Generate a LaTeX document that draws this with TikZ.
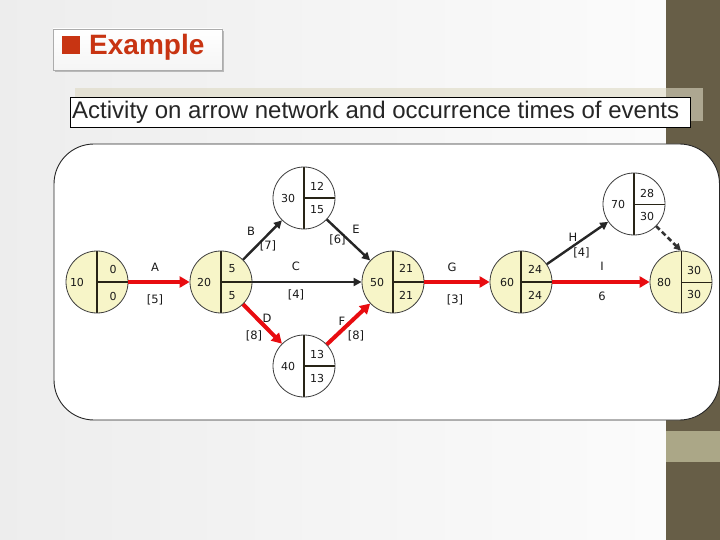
\documentclass[tikz,border=0pt]{standalone}
\usepackage{fontspec}
\setmainfont{Liberation Sans}
\newfontfamily\netfont{DejaVu Sans}
\usetikzlibrary{arrows.meta}
\usetikzlibrary{shadings}
\usepackage{xcolor}
\definecolor{sidebar}{RGB}{103,94,71}
\definecolor{sideband}{RGB}{171,167,135}
\definecolor{khakishade}{RGB}{221,217,195}
\definecolor{titlered}{RGB}{200,52,18}
\definecolor{critred}{RGB}{232,12,16}
\definecolor{eventyellow}{RGB}{247,245,200}
\definecolor{divider}{RGB}{40,36,22}
\definecolor{rimgray}{RGB}{60,60,60}

\begin{document}
\begin{tikzpicture}[x=1pt,y=-1pt,
  event/.style={shape=circle,draw=rimgray,line width=0.8pt,fill=eventyellow,
    minimum size=62pt,inner sep=0pt},
  split/.style={path picture={
    \draw[line width=2.2pt,draw=divider]
     (path picture bounding box.north) -- (path picture bounding box.south)
     (path picture bounding box.center) -- (path picture bounding box.east);
    }},
  splitthin/.style={path picture={
    \draw[line width=2.2pt,draw=divider]
     (path picture bounding box.north) -- (path picture bounding box.south);
    \draw[line width=0.8pt,draw=divider]
     (path picture bounding box.center) -- (path picture bounding box.east);
    }},
  splitfine/.style={path picture={
    \draw[line width=0.9pt,draw=divider]
     (path picture bounding box.north) -- (path picture bounding box.south)
     (path picture bounding box.center) -- (path picture bounding box.east);
    }},
  num/.style={font=\netfont\fontsize{11}{13}\selectfont,inner sep=0pt,text=black!90},
  lbl/.style={font=\netfont\fontsize{11.5}{13}\selectfont,inner sep=0pt,text=black!90},
  crit/.style={draw=critred,line width=4pt,-{Triangle[length=10pt,width=11pt]}},
  act/.style={draw=black!85,line width=2.4pt,-{Triangle[length=8pt,width=8pt]}},
  dummy/.style={draw=black!80,line width=2.6pt,dash pattern=on 5pt off 3pt,
    -{Triangle[length=7pt,width=7pt]}}]
  \useasboundingbox (0,0) rectangle (720,540);

  % slide background
  \shade[left color=gray!14,right color=gray!3] (0,0) rectangle (666,540);
  \fill[sidebar] (666,0) rectangle (720,540);
  \fill[sideband] (666,431) rectangle (720,462);

  % heading
  \fill[gray!55] (55,31) rectangle (224,72);
  \node[shape=rectangle,
    draw=gray!65,
    top color=white,
    bottom color=gray!8,
    minimum width=169pt,
    minimum height=41pt] (titlebox) at (137.5,49.5) {};
  \fill[titlered] (62,36) rectangle (80,54);
  \node[anchor=base west,inner sep=0pt,text=titlered,
    font=\bfseries\fontsize{28}{30}\selectfont] (titletext) at (89,55) {Example};

  \fill[khakishade,opacity=0.6] (75,88) rectangle (703,121);
  \node[shape=rectangle,
    draw=black,
    line width=0.7pt,
    fill=white,
    minimum width=620pt,
    minimum height=30pt] (subbox) at (380,112) {};
  \node[anchor=base west,inner sep=0pt,text=black!85,
    font=\fontsize{24}{26}\selectfont] (subtext) at (72,119)
    {Activity on arrow network and occurrence times of events};

  % panel
  \draw[fill=white,draw=black!85,line width=0.9pt,rounded corners=40pt]
    (54,144) rectangle (719.5,420);

  % events
  \node[event,split] (n10) at (97,282) {};
  \node[event,split] (n20) at (221,282) {};
  \node[event,split,fill=white] (n30) at (304,198) {};
  \node[event,split,fill=white] (n40) at (304,366) {};
  \node[event,split] (n50) at (393,282) {};
  \node[event,split] (n60) at (521,282) {};
  \node[event,splitthin,fill=white] (n70) at (634,204) {};
  \node[event,splitfine] (n80) at (681,282) {};

  \node[num] (e10) at (77,282) {10};
  \node[num] (t10) at (113,269) {0};
  \node[num] (b10) at (113,296) {0};
  \node[num] (e20) at (204,282) {20};
  \node[num] (t20) at (232,269) {5};
  \node[num] (b20) at (232,296) {5};
  \node[num] (e30) at (288,198) {30};
  \node[num] (t30) at (317,186) {12};
  \node[num] (b30) at (317,210) {15};
  \node[num] (e40) at (288,366) {40};
  \node[num] (t40) at (317,354) {13};
  \node[num] (b40) at (317,378) {13};
  \node[num] (e50) at (377,282) {50};
  \node[num] (t50) at (406,268) {21};
  \node[num] (b50) at (406,295) {21};
  \node[num] (e60) at (507,282) {60};
  \node[num] (t60) at (535,269) {24};
  \node[num] (b60) at (535,295) {24};
  \node[num] (e70) at (618,204) {70};
  \node[num] (t70) at (647,193) {28};
  \node[num] (b70) at (647,216) {30};
  \node[num] (e80) at (664,282) {80};
  \node[num] (t80) at (694,270) {30};
  \node[num] (b80) at (694,294) {30};

  % activities
  \draw[crit] (n10) -- node[lbl,xshift=-4pt,yshift=15pt] (la) {A}
    node[lbl,xshift=-4pt,yshift=-18pt] (da) {[5]} (n20);
  \draw[act] (n20) -- node[lbl,xshift=-11.5pt,yshift=9pt] (lb) {B}
    node[lbl,xshift=5.5pt,yshift=-6pt] (db) {[7]} (n30);
  \draw[act] (n20) -- node[lbl,xshift=-11pt,yshift=16pt] (lc) {C}
    node[lbl,xshift=-11pt,yshift=-13pt] (dc) {[4]} (n50);
  \draw[crit] (n20) -- node[lbl,xshift=4.5pt,yshift=6pt] (ld) {D}
    node[lbl,xshift=-8.5pt,yshift=-12pt] (dd) {[8]} (n40);
  \draw[act] (n30) -- node[lbl,xshift=7.5pt,yshift=11pt] (le) {E}
    node[lbl,xshift=-11pt,yshift=0pt] (de) {[6]} (n50);
  \draw[crit] (n40) -- node[lbl,xshift=-6.5pt,yshift=3pt] (lf) {F}
    node[lbl,xshift=7.5pt,yshift=-12pt] (df) {[8]} (n50);
  \draw[crit] (n50) -- node[lbl,xshift=-5pt,yshift=15pt] (lg) {G}
    node[lbl,xshift=-2pt,yshift=-18pt] (dg) {[3]} (n60);
  \draw[act] (n60) -- node[lbl,xshift=-4.5pt,yshift=6pt] (lh) {H}
    node[lbl,xshift=4pt,yshift=-10pt] (dh) {[4]} (n70);
  \draw[crit] (n60) -- node[lbl,xshift=1pt,yshift=16pt] (li) {I}
    node[lbl,xshift=1pt,yshift=-14pt] (di) {6} (n80);
  \draw[dummy] (n70.-45) -- (n80.north);

\end{tikzpicture}
\end{document}
